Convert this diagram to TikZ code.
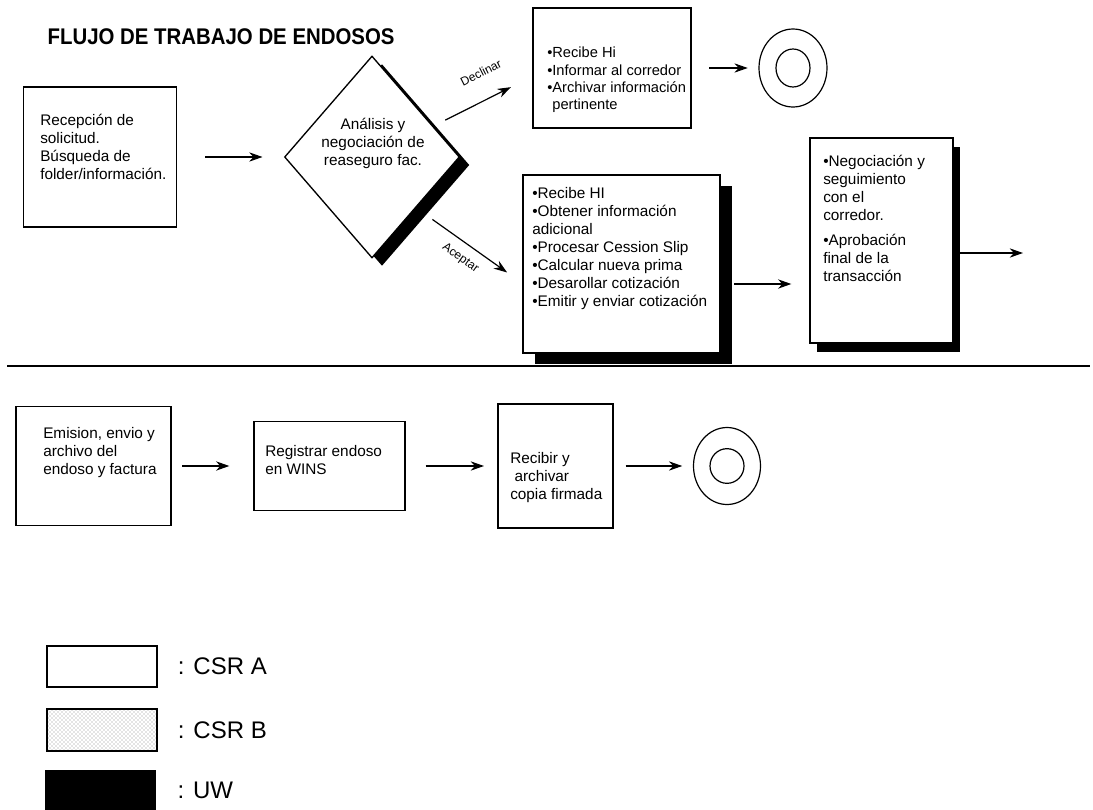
\documentclass[tikz,border=0pt]{standalone}
\usepackage{fontspec}
\usepackage{graphicx}
\setmainfont{Liberation Sans}
\usetikzlibrary{positioning,arrows.meta,shapes.geometric,shadows,patterns}

\begin{document}
\begin{tikzpicture}[x=0.75pt,y=-0.75pt,
box/.style={draw,rectangle,line width=1pt,fill=white,inner sep=0pt},
txt/.style={font=\fontsize{11.5}{13.5}\selectfont,align=left,inner sep=0pt,anchor=north west},
arr/.style={-{Stealth[length=10pt,width=7pt]},line width=0.9pt},
endc/.style={draw,ellipse,line width=0.9pt,inner sep=0pt},
brlabel/.style={font=\fontsize{9}{10}\selectfont,inner sep=1pt,sloped},
legtxt/.style={font=\fontsize{18}{20}\selectfont,inner sep=0pt}]
\useasboundingbox (0,0) rectangle (1093,810);

\node (title) [anchor=west,font=\bfseries\fontsize{17}{20}\selectfont] at (43,37) {\scalebox{0.9}[1]{FLUJO DE TRABAJO DE ENDOSOS}};

\node (recep) [box,minimum width=114.75pt,minimum height=105pt] at (100,157) {};
\node (recep-t) [txt] at (40,114) {Recepción de\\solicitud.\\Búsqueda de\\folder/información.};

\node (anal) [draw,diamond,line width=1pt,fill=white,inner sep=0pt,
    minimum width=131.25pt,minimum height=151.5pt,
    drop shadow={shadow xshift=7.5pt,shadow yshift=-6pt,fill=black,opacity=1}] at (372,157) {};
\node (anal-t) [txt,align=center,anchor=center] at (373,143) {Análisis y\\negociación de\\reaseguro fac.};

\node (decl) [box,minimum width=118.5pt,minimum height=90pt] at (612,68) {};
\node (decl-t) [txt,font=\fontsize{11}{13}\selectfont] at (547,47) {•Recibe Hi\\•Informar al corredor\\•Archivar información\\\phantom{•}pertinente};

\node (fin1) [endc,minimum width=51pt,minimum height=58.5pt] at (793,68) {};
\node (fin1-in) [endc,minimum width=25.5pt,minimum height=28.5pt] at (793,68) {};

\node (acep) [box,minimum width=147.75pt,minimum height=133.5pt,
    drop shadow={shadow xshift=9pt,shadow yshift=-8pt,fill=black,opacity=1}] at (621.5,264) {};
\node (acep-t) [txt] at (532,187) {•Recibe HI\\•Obtener información\\adicional\\•Procesar Cession Slip\\•Calcular nueva prima\\•Desarollar cotización\\•Emitir y enviar cotización};

\node (negoc) [box,minimum width=107.25pt,minimum height=153.75pt,
    drop shadow={shadow xshift=5.5pt,shadow yshift=-7pt,fill=black,opacity=1}] at (881.5,240.5) {};
\node (negoc-t) [txt] at (823,155) {•Negociación y\\seguimiento\\con el\\corredor.\\[5pt]•Aprobación\\final de la\\transacción};
\coordinate (exit) at (1023,253);

\draw[arr,shorten <=21pt,shorten >=16pt] (recep.east) -- (anal.west);
\draw[arr,shorten <=10pt,shorten >=18pt] (anal) -- (decl.186)
    node[brlabel,pos=0.6,above=15pt] {Declinar};
\draw[arr,shorten <=15pt,shorten >=14pt] (anal.south east) -- (acep.191)
    node[brlabel,pos=0.5,below=6pt] {Aceptar};
\draw[arr,shorten <=13pt,shorten >=8pt] (decl.east) -- (fin1.west);
\draw[arr,shorten <=10pt,shorten >=13.5pt] ([yshift=-15pt]acep.east) -- ([yshift=-15pt]acep.east -| negoc.west);
\draw[arr,shorten <=5pt] (negoc.east |- exit) -- (exit);

\coordinate (sepl) at (7,366);
\coordinate (sepr) at (1090,366);
\draw[line width=1pt] (sepl) -- (sepr);

\node (emis) [box,minimum width=116.25pt,minimum height=89.25pt] at (93.5,466) {};
\node (emis-t) [txt] at (43,427) {Emision, envio y\\archivo del\\endoso y factura};

\node (regis) [box,minimum width=113.25pt,minimum height=66.75pt] at (329.5,466) {};
\node (regis-t) [txt] at (265,445) {Registrar endoso\\en WINS};

\node (recib) [box,minimum width=86.25pt,minimum height=93pt] at (555.5,466) {};
\node (recib-t) [txt] at (510,452) {Recibir y\\\ archivar\\copia firmada};

\node (fin2) [endc,minimum width=50.25pt,minimum height=57.75pt] at (727,466) {};
\node (fin2-in) [endc,minimum width=25.5pt,minimum height=26pt] at (727,466) {};

\draw[arr,shorten <=8pt,shorten >=18pt] (emis) -- (regis);
\draw[arr,shorten <=15pt,shorten >=10pt] (regis) -- (recib);
\draw[arr,shorten <=9pt,shorten >=8pt] (recib) -- (fin2);

\node (leg-a) [box,minimum width=82.5pt,minimum height=30.75pt] at (102,666.5) {};
\node (leg-a-t) [legtxt,right=15pt of leg-a] {: CSR A};
\node (leg-b) [box,pattern=crosshatch dots,pattern color=black!45,minimum width=82.5pt,minimum height=31.5pt] at (102,730) {};
\node (leg-b-t) [legtxt,right=15pt of leg-b] {: CSR B};
\node (leg-uw) [draw,fill=black,inner sep=0pt,minimum width=82.5pt,minimum height=30pt] at (100,790) {};
\node (leg-uw-t) [legtxt,right=16.5pt of leg-uw] {: UW};
\end{tikzpicture}
\end{document}
